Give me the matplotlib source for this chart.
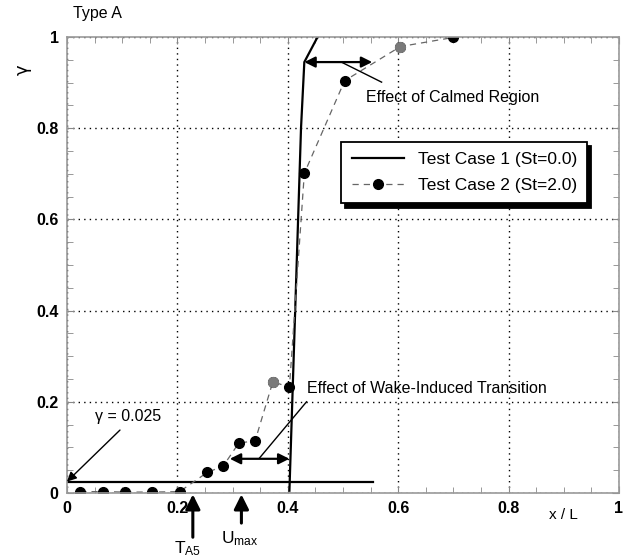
import numpy as np
import matplotlib
matplotlib.use("Agg")
import matplotlib.pyplot as plt
from matplotlib.ticker import MultipleLocator

plt.rcParams['font.family'] = ['Liberation Sans', 'DejaVu Sans']
plt.rcParams['mathtext.fontset'] = 'custom'
plt.rcParams['mathtext.rm'] = 'Liberation Sans'

# Test Case 1 (St=0.0): step-like transition
tc1_x = [0.403, 0.424, 0.430, 0.454]
tc1_y = [0.005, 0.80, 0.945, 1.0]

# reference level gamma = 0.025
ref_x = [0.0, 0.555]
ref_y = [0.025, 0.025]

# Test Case 2 (St=2.0) measured points
tc2_x = [0.024, 0.066, 0.105, 0.154, 0.204, 0.254, 0.283, 0.311, 0.341, 0.373, 0.403, 0.430, 0.503, 0.604, 0.700]
tc2_y = [0.003, 0.003, 0.002, 0.002, 0.003, 0.045, 0.059, 0.109, 0.115, 0.244, 0.232, 0.701, 0.904, 0.979, 0.999]
gray_pts = [9, 13]  # points that print lighter in the original

ticks = [0, 0.2, 0.4, 0.6, 0.8, 1]
tick_labels = ['0', '0.2', '0.4', '0.6', '0.8', '1']

fig = plt.figure(figsize=(6.29, 5.58), dpi=100)
ax = fig.add_axes([0.1065, 0.1165, 0.8775, 0.8172])

ax.plot(ref_x, ref_y, color='k', lw=1.6)
ax.plot(tc1_x, tc1_y, color='k', lw=1.6, label='Test Case 1 (St=0.0)')
ax.plot(tc2_x, tc2_y, color='#666666', lw=0.9, ls=(0, (5, 4)), marker='o', ms=7,
        mfc='k', mec='k', label='Test Case 2 (St=2.0)')
for i in gray_pts:
    ax.plot(tc2_x[i], tc2_y[i], 'o', ms=7, color='#7a7a7a', zorder=3)

ax.set_xlim(0, 1)
ax.set_ylim(0, 1)
ax.set_xticks(ticks)
ax.set_yticks(ticks)
ax.xaxis.set_minor_locator(MultipleLocator(0.05))
ax.yaxis.set_minor_locator(MultipleLocator(0.05))
ax.set_xticklabels(tick_labels, fontweight='bold', fontsize=11.5)
ax.set_yticklabels(tick_labels, fontweight='bold', fontsize=11.5)
ax.tick_params(which='both', direction='in', top=True, right=True, color='#888888')
ax.tick_params(which='major', length=5, pad=6)
ax.tick_params(which='minor', length=4)
ax.grid(True, which='major', ls=(0, (1, 3)), color='k', lw=1.0)
for s in ax.spines.values():
    s.set_color('#999999')
    s.set_linewidth(1.2)

ax.text(0.011, 1.035, 'Type A', fontsize=11.5, va='bottom')
ax.text(-0.081, 0.928, 'γ', fontsize=13, rotation=90, ha='center', va='center', clip_on=False,
        family=['DejaVu Sans'])
ax.text(0.90, -0.048, 'x / L', fontsize=11, ha='center', va='center')

# gamma = 0.025 annotation
ax.annotate('', xy=(0.0, 0.025), xytext=(0.096, 0.138),
            arrowprops=dict(arrowstyle='-|>', color='k', lw=1.0, mutation_scale=14, shrinkA=0, shrinkB=0))
ax.text(0.051, 0.167, 'γ = 0.025', fontsize=11.5, va='center')

# calmed region
ax.annotate('', xy=(0.430, 0.945), xytext=(0.553, 0.945),
            arrowprops=dict(arrowstyle='<|-|>', color='k', lw=1.6, mutation_scale=16, shrinkA=0, shrinkB=0))
ax.plot([0.570, 0.497], [0.901, 0.945], color='k', lw=1.0)
ax.text(0.542, 0.868, 'Effect of Calmed Region', fontsize=11.5, va='center')

# wake-induced transition
ax.annotate('', xy=(0.295, 0.075), xytext=(0.403, 0.075),
            arrowprops=dict(arrowstyle='<|-|>', color='k', lw=1.6, mutation_scale=16, shrinkA=0, shrinkB=0))
ax.plot([0.434, 0.349], [0.200, 0.077], color='k', lw=1.0)
ax.text(0.434, 0.230, 'Effect of Wake-Induced Transition', fontsize=11.5, va='center')

# arrows below axis
ax.annotate('', xy=(0.228, -0.003), xytext=(0.228, -0.097), annotation_clip=False,
            arrowprops=dict(arrowstyle='-|>', color='k', lw=2.2, mutation_scale=22, shrinkA=0, shrinkB=0))
ax.text(0.219, -0.123, r'$\mathrm{T_{A5}}$', fontsize=12.5, ha='center', va='center', clip_on=False)
ax.annotate('', xy=(0.316, -0.003), xytext=(0.316, -0.066), annotation_clip=False,
            arrowprops=dict(arrowstyle='-|>', color='k', lw=2.2, mutation_scale=22, shrinkA=0, shrinkB=0))
ax.text(0.313, -0.100, r'$\mathrm{U_{max}}$', fontsize=12.5, ha='center', va='center', clip_on=False)

leg = ax.legend(loc='upper left', bbox_to_anchor=(0.481, 0.789), fontsize=12.5, frameon=True,
                fancybox=False, edgecolor='k', handlelength=3.0, borderpad=0.6, labelspacing=0.6,
                shadow={'color': 'black', 'alpha': 1.0, 'ox': 3, 'oy': -3})
leg.get_frame().set_linewidth(1.3)
leg.get_frame().set_alpha(1)

fig.savefig('out.png', dpi=100)
